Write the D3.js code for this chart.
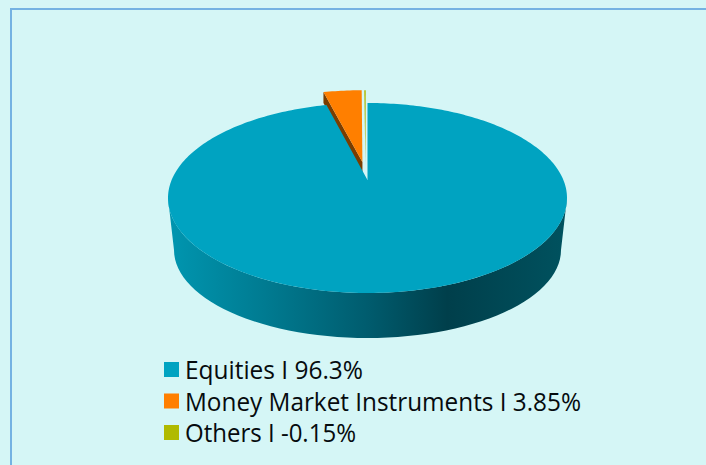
<!DOCTYPE html>
<html><head><meta charset="utf-8">
<script src="https://cdn.jsdelivr.net/npm/d3@7"></script>
<style>html,body{margin:0;padding:0;background:#d5f6f6;overflow:hidden}svg{display:block}</style>
</head><body><svg id="c" width="706" height="465"></svg>
<script>
const categories = ["Equities", "Money Market Instruments", "Others"];
const values = [96.3, 3.85, -0.15];
const colors = ["#00a3c1", "#ff7f00", "#b0ba00"];
const sideColors = ["#00a3c1", "#7a3d00", "#a9c2b4"];
const explodeU = [0, -0.027, -0.011];
const explodeV = [0, -0.204, -0.204];
const labelLengths = [178, 396, 171];

const svg = d3.select("#c");
svg.append("rect").attr("x",11).attr("y",9).attr("width",710).attr("height",480)
  .attr("fill","#d5f6f6").attr("stroke","#74b2e2").attr("stroke-width",2);

const sx = d3.scaleLinear().domain([-1,1]).range([168,567]);
const sy = d3.scaleLinear().domain([-1,1]).range([103,293]);
const k = 18/95, q = Math.sqrt(1-k*k);
function proj(u,v){ const w = 1-k*v; return [sx(u*q/w), sy((v-k)/w)]; }

const arcs = d3.pie().value(d=>Math.abs(d)).sort(null)(values);
const defs = svg.append("defs");
const g = defs.append("linearGradient").attr("id","rim").attr("x1","0").attr("x2","1").attr("y1","0").attr("y2","0");
[[0,"#0096b0"],[0.25,"#007a90"],[0.5,"#005c6e"],[0.7,"#003f4b"],[1,"#00525f"]]
  .forEach(s=>g.append("stop").attr("offset",s[0]).attr("stop-color",s[1]));

// rim of the disc
const tx = d3.scaleLinear().domain([-1,1]).range([174,561]);
const ty = d3.scaleLinear().domain([-1,1]).range([162,338]);
const line = d3.line();
const half = d3.range(0,181,3).map(a=>a*Math.PI/180);
const rim = half.map(a=>[tx(-Math.cos(a)), ty(Math.sin(a))])
  .concat(half.slice().reverse().map(a=>[sx(-Math.cos(a)), sy(Math.sin(a))]));
svg.append("path").attr("d",line(rim)+"Z").attr("fill","url(#rim)");

function slicePts(d,i){
  const ox=explodeU[i], oy=explodeV[i];
  const n=Math.max(2,Math.ceil((d.endAngle-d.startAngle)/0.02));
  const pts=[proj(ox,oy)];
  d3.range(n+1).forEach(j=>{
    const a=d.startAngle+(d.endAngle-d.startAngle)*j/n;
    pts.push(proj(ox+Math.sin(a),oy-Math.cos(a)));
  });
  return pts;
}
// side walls of the exploded slices
const sideDepth = [0, 11, 14];
arcs.forEach((d,i)=>{
  if(!sideDepth[i]) return;
  const p=slicePts(d,i);
  const edge = i===1 ? p[1] : p[p.length-1];
  const wall=[p[0],edge,[edge[0],edge[1]+sideDepth[i]],[p[0][0],p[0][1]+sideDepth[i]]];
  svg.append("path").attr("d",line(wall)+"Z").attr("fill",sideColors[i]);
});
arcs.forEach((d,i)=>{
  svg.append("path").attr("d",line(slicePts(d,i))+"Z").attr("fill",colors[i]);
});

// legend
const ly = d3.scalePoint().domain(categories).range([379,442]);
const fmt = v => String(v)+"%";
categories.forEach((c,i)=>{
  svg.append("rect").attr("x",164).attr("y",ly(c)-17).attr("width",15).attr("height",15).attr("fill",colors[i]);
  svg.append("text").attr("x",185).attr("y",ly(c)).attr("font-family","'Open Sans'").attr("font-size",25)
    .attr("textLength",labelLengths[i]).attr("lengthAdjust","spacingAndGlyphs")
    .attr("fill","#060b0e").text(c+" I "+fmt(values[i]));
});
</script></body></html>
